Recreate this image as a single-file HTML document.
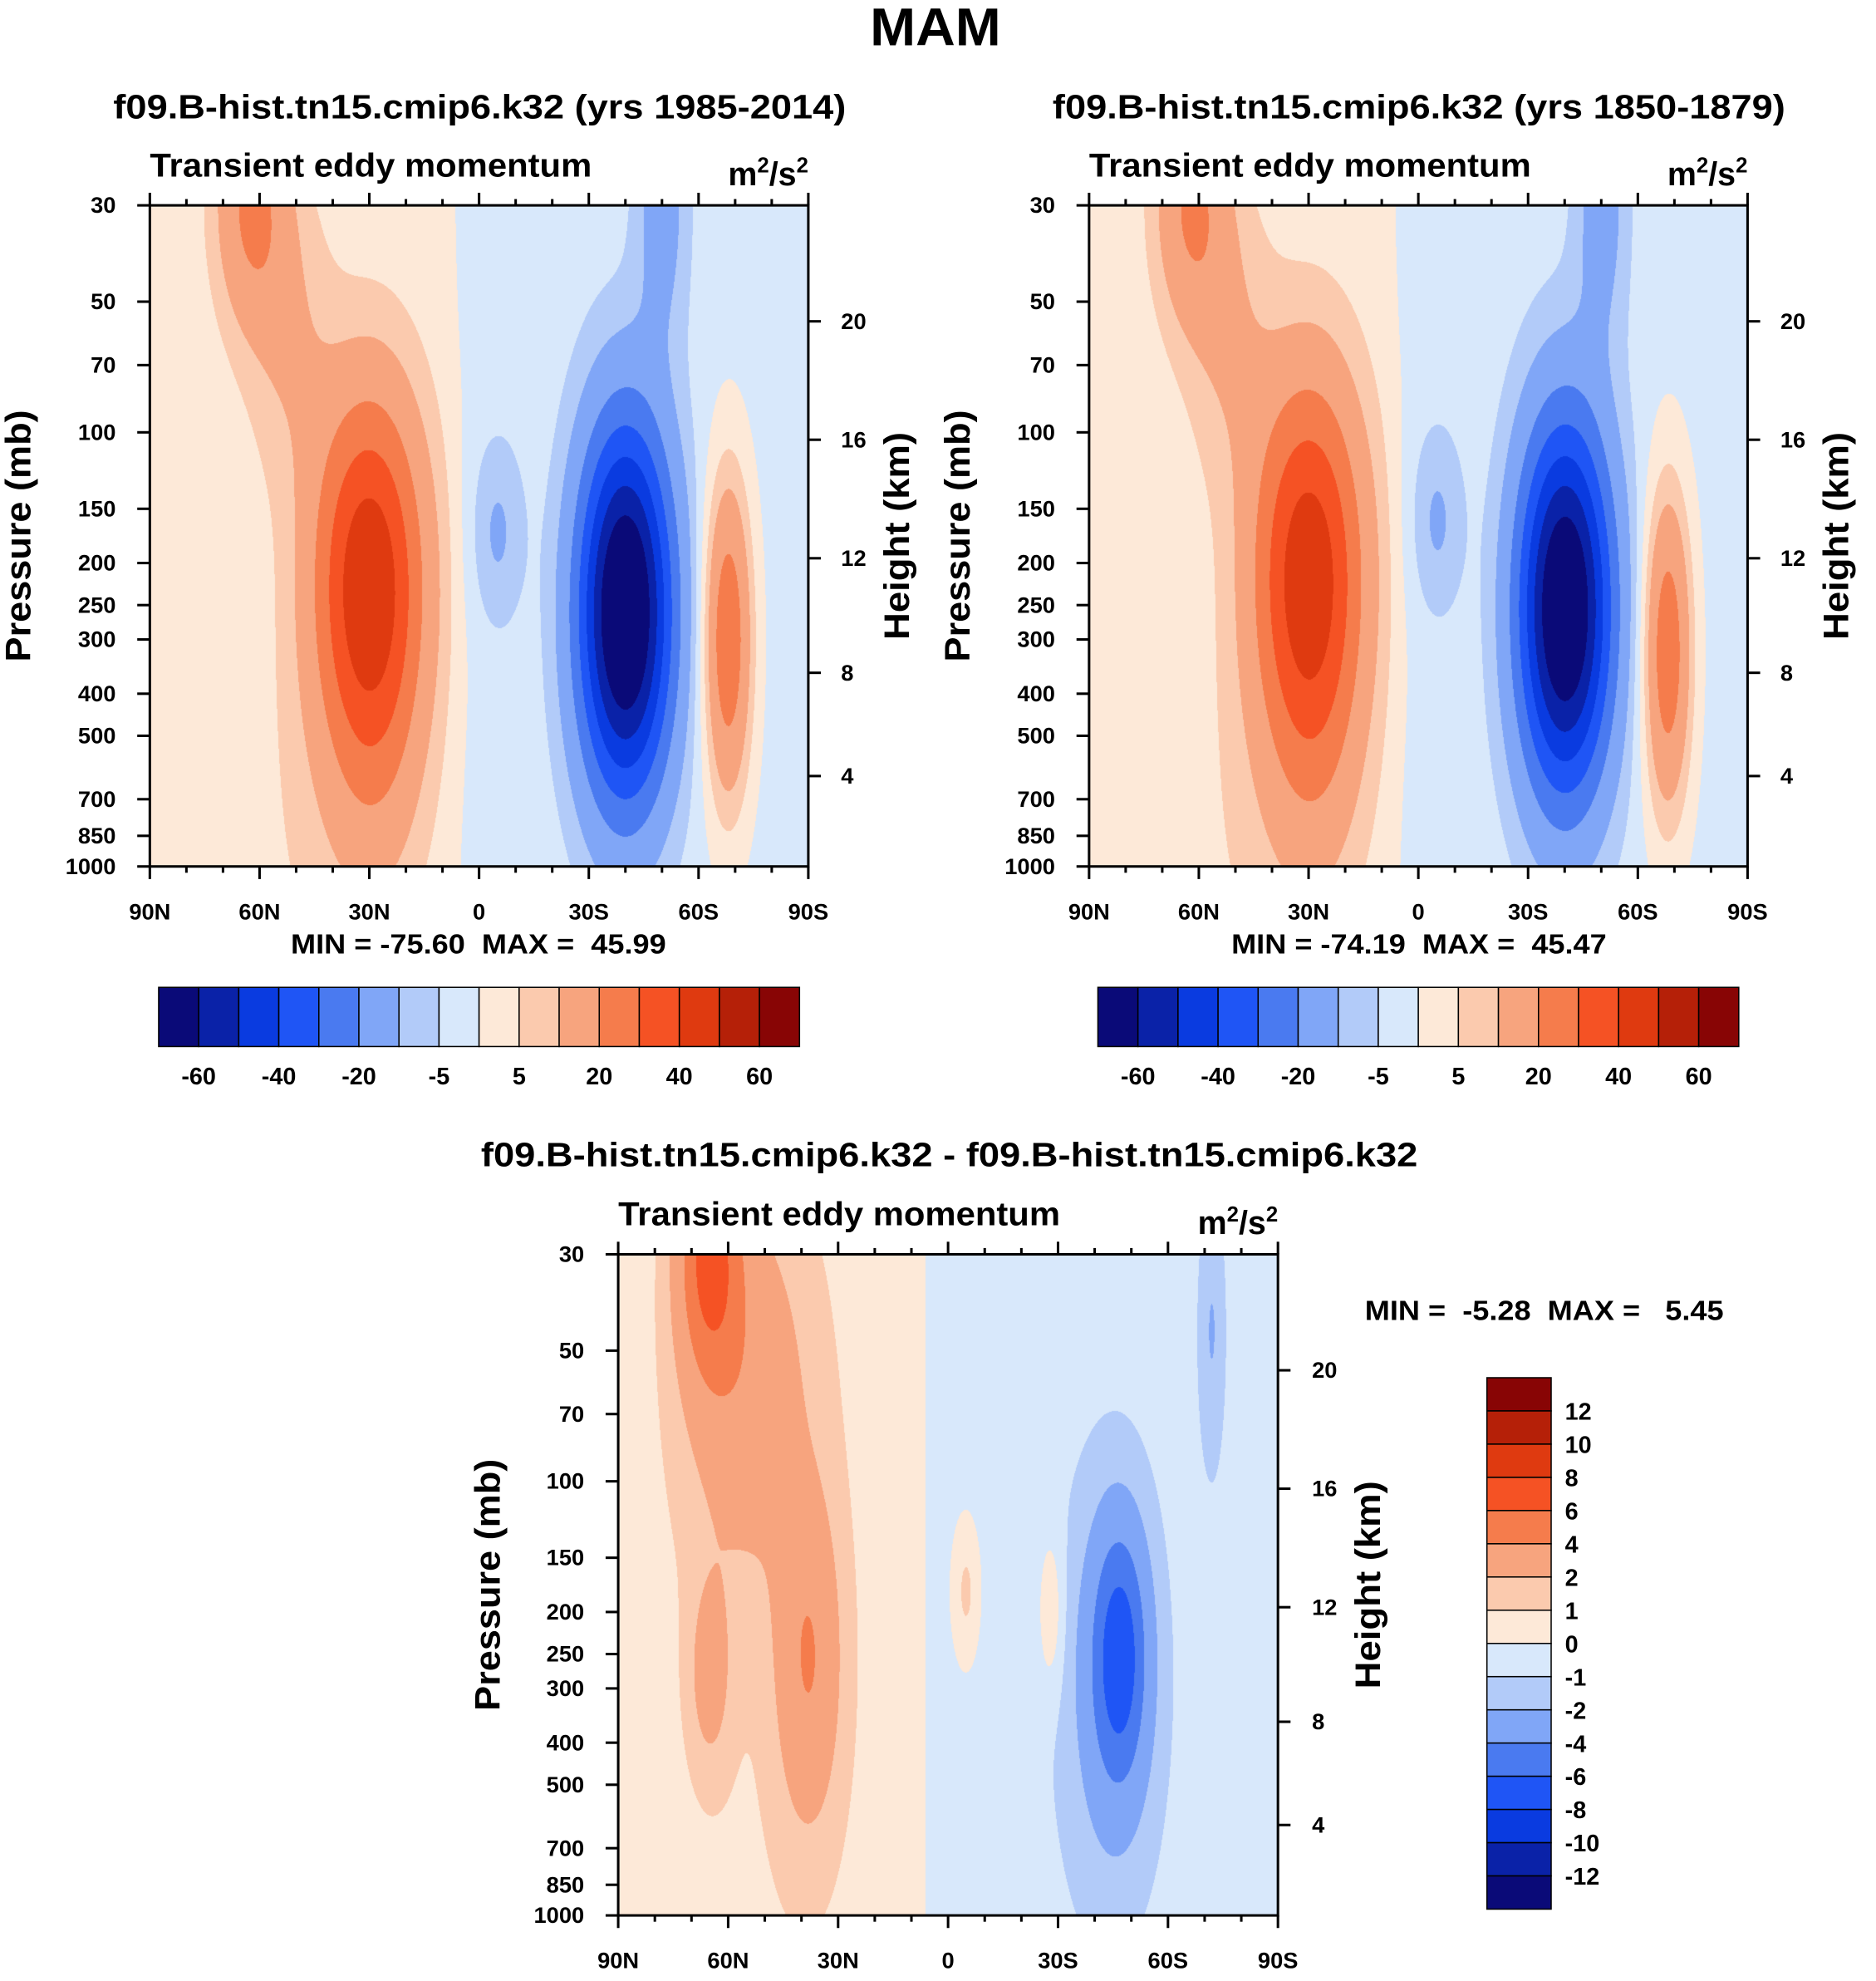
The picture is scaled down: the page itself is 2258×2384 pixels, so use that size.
<!DOCTYPE html>
<html><head><meta charset="utf-8">
<style>
html,body{margin:0;padding:0;background:#fff;}
#wrap{position:relative;width:2258px;height:2384px;overflow:hidden;background:#fff;}
canvas{position:absolute;}
svg{position:absolute;left:0;top:0;}
text{font-family:"Liberation Sans",sans-serif;font-weight:bold;fill:#000;white-space:pre;}
</style></head>
<body>
<div id="wrap">
<canvas id="c1"></canvas>
<canvas id="c2"></canvas>
<canvas id="c3"></canvas>
<svg id="svg" width="2258" height="2384" viewBox="0 0 1490 1573"></svg>
</div>
<script>
// ---- data ----
const palette = ["#0a0a78","#0a22a8","#0a3be0","#1f55f5","#4a7af0","#80a6f7","#b2cbf9","#d8e8fb","#fde9d8","#fbcaae","#f7a47e","#f57c4c","#f55224","#df3a10","#b52008","#880505"];
const levelsTop = [-60,-50,-40,-30,-20,-10,-5,0,5,10,20,30,40,50,60];
const levelsDiff = [-12,-10,-8,-6,-4,-2,-1,0,1,2,4,6,8,10,12];
const levelLabelsTop = ["-60","-40","-20","-5","5","20","40","60"];
const levelLabelsDiff = ["12","10","8","6","4","2","1","0","-1","-2","-4","-6","-8","-10","-12"];
const pressureTicks = [30,50,70,100,150,200,250,300,400,500,700,850,1000];
const heightTicks = [4,8,12,16,20];
const heightTickP = [619,358,195,104,55.5];
const latTicks = [90,60,30,0,-30,-60,-90];
const latTickLabels = ["90N","60N","30N","0","30S","60S","90S"];

// panel 1 blobs (lat, p[mb], amplitude, sigmaLat, sigmaLnP)
const p1Lat = [30, -40, -68, 62, -5, -50, 45, 52, 28];
const p1P   = [220, 260, 300, 30, 170, 30, 1000, 60, 600];
const p1Amp = [46, -76, 30, 20, -9, -12, 3, 8, 6];
const p1SL  = [10.5, 9, 4.5, 7, 5, 5, 18, 8, 9];
const p1SZ  = [0.7, 0.7, 0.6, 0.45, 0.35, 0.5, 1.0, 0.55, 0.6];
const p1Base = [1.5, -2];

// panel 2 blobs
const p2Lat = [30, -40, -68, 62, -5, -50, 45, 52, 28];
const p2P   = [210, 255, 320, 30, 160, 30, 1000, 60, 600];
const p2Amp = [45, -74, 29, 19, -9, -12, 3, 8, 6];
const p2SL  = [10.5, 9, 4.5, 7, 5, 5, 18, 8, 9];
const p2SZ  = [0.72, 0.7, 0.6, 0.45, 0.35, 0.5, 1.0, 0.55, 0.6];
const p2Base = [1.5, -2];

// difference blobs
const p3Lat = [65, 55, 38, 65, -47, -45, -5, -28, -72, 45, -30];
const p3P   = [30, 60, 260, 280, 250, 300, 180, 200, 45, 400, 400];
const p3Amp = [5.5, 2.5, 3.2, 2.0, -5.0, -2.2, 1.8, 1.6, -1.5, 0.4, -0.3];
const p3SL  = [6, 12, 6, 4, 5, 8, 3, 2.5, 2.5, 25, 30];
const p3SZ  = [0.45, 0.7, 0.6, 0.35, 0.45, 0.7, 0.3, 0.3, 0.5, 2, 2];
const p3Base = [0.5, -0.5];

// ---- layout (display units) ----
const S = 2258/1490;
const NS = "http://www.w3.org/2000/svg";
const svg = document.getElementById('svg');
function el(tag, attrs, parent){const e=document.createElementNS(NS,tag);for(const k in attrs)e.setAttribute(k,attrs[k]);(parent||svg).appendChild(e);return e;}
function txt(x,y,s,size,anchor,parent,rot,len){const t=el('text',{x:x,y:y,'font-size':size,'text-anchor':anchor||'middle'},parent);if(len){t.setAttribute('textLength',len);t.setAttribute('lengthAdjust','spacingAndGlyphs');}if(rot)t.setAttribute('transform','rotate(-90 '+x+' '+y+')');t.textContent=s;return t;}

function makeScales(x0,y0,w,h){
  const L=Math.log(1000/30);
  return {
    x: lat => x0 + (90-lat)/180*w,
    y: p => y0 + Math.log(p/30)/L*h,
    lat: px => 90 - (px-x0)/w*180,
    p: py => 30*Math.exp((py-y0)/h*L)
  };
}
function field(lat,p,B){
  const z=Math.log(p);
  const f=0.5+0.5*Math.tanh((lat-6)/4);
  const g=0.5+0.5*Math.tanh((84-lat)/3);
  let v = (B.base[0]*f + B.base[1]*(1-f))*(0.3+0.7*g) ;
  for(let i=0;i<B.lat.length;i++){
    const a=(lat-B.lat[i])/B.sl[i], b=(z-Math.log(B.p[i]))/B.sz[i];
    v += B.amp[i]*Math.exp(-0.5*(a*a+b*b));
  }
  return v;
}
function colorIdx(v,levels){let i=0;while(i<levels.length&&v>=levels[i])i++;return i;}
function hex2rgb(h){return [parseInt(h.substr(1,2),16),parseInt(h.substr(3,2),16),parseInt(h.substr(5,2),16)];}
const rgb = palette.map(hex2rgb);

function drawField(id,x0,y0,w,h,B,levels){
  const c=document.getElementById(id);
  const W=Math.round(w*S),H=Math.round(h*S);
  c.width=W;c.height=H;c.style.left=(x0*S)+'px';c.style.top=(y0*S)+'px';
  c.style.width=W+'px';c.style.height=H+'px';
  const ctx=c.getContext('2d');const img=ctx.createImageData(W,H);
  const sc=makeScales(0,0,W,H);
  for(let j=0;j<H;j++){const p=sc.p(j+0.5);
    for(let i=0;i<W;i++){const lat=sc.lat(i+0.5);
      const k=colorIdx(field(lat,p,B),levels);const c3=rgb[k];const o=(j*W+i)*4;
      img.data[o]=c3[0];img.data[o+1]=c3[1];img.data[o+2]=c3[2];img.data[o+3]=255;}}
  ctx.putImageData(img,0,0);
}

function drawAxes(name,x0,y0,w,h,pLabelX,pTitleX,hLabelX,hTitleX){
  const g=el('g',{});
  
  
  const sc=makeScales(x0,y0,w,h);
  el('rect',{x:x0,y:y0,width:w,height:h,fill:'none',stroke:'#000','stroke-width':2},g);
  pressureTicks.forEach(p=>{const y=sc.y(p);
    el('line',{x1:x0-10,x2:x0,y1:y,y2:y,stroke:'#000','stroke-width':2},g);
    const t=txt(pLabelX,y+6,String(p),18,'end',g);
    
    });
  const pt=txt(pTitleX,y0+h/2,'Pressure (mb)',28,'middle',g,true,200);
  
  
  heightTicks.forEach((hk,i)=>{const y=sc.y(heightTickP[i]);
    el('line',{x1:x0+w,x2:x0+w+10,y1:y,y2:y,stroke:'#000','stroke-width':2},g);
    const t=txt(hLabelX,y+6,String(hk),18,'start',g);
    
    });
  const ht=txt(hTitleX,y0+h/2,'Height (km)',28,'middle',g,true,165);
  
  
  for(let lat=90;lat>=-90;lat-=10){const x=sc.x(lat);const major=latTicks.indexOf(lat)>=0;const L=major?10:5;
    el('line',{x1:x,x2:x,y1:y0+h,y2:y0+h+L,stroke:'#000','stroke-width':2},g);
    el('line',{x1:x,x2:x,y1:y0,y2:y0-L,stroke:'#000','stroke-width':2},g);}
  latTicks.forEach((lat,i)=>{const t=txt(sc.x(lat),y0+h+42,latTickLabels[i],18,'middle',g);
    
    });
  const tr=txt(x0,y0-23,'Transient eddy momentum',26,'start',g,false,351);
  
  
  const u=el('text',{x:x0+w,y:y0-16,'font-size':26,'text-anchor':'end'},g);
  u.innerHTML='m<tspan dy="-10" font-size="17">2</tspan><tspan dy="10">/s</tspan><tspan dy="-10" font-size="17">2</tspan>';
  
  
}

function hColorbar(name,x0,y0,w,h){
  const g=el('g',{});
  
  
  const n=palette.length,bw=w/n;
  palette.forEach((c,i)=>{const r=el('rect',{x:x0+i*bw,y:y0,width:bw,height:h,fill:c,stroke:'#000','stroke-width':1},g);
    
    });
  levelLabelsTop.forEach((s,i)=>{const t=txt(x0+(2*i+1)*bw,y0+h+30,s,19,'middle',g);
    
    });
}
function vColorbar(name,x0,y0,w,h){
  const g=el('g',{});
  
  
  const n=palette.length,bh=h/n;
  for(let i=0;i<n;i++){const r=el('rect',{x:x0,y:y0+i*bh,width:w,height:bh,fill:palette[n-1-i],stroke:'#000','stroke-width':1},g);
    
    }
  levelLabelsDiff.forEach((s,i)=>{const t=txt(x0+w+11,y0+(i+1)*bh+7,s,19,'start',g);
    
    });
}

drawField('c1',119,163,523,525,{lat:p1Lat,p:p1P,amp:p1Amp,sl:p1SL,sz:p1SZ,base:p1Base},levelsTop);
drawField('c2',865,163,523,525,{lat:p2Lat,p:p2P,amp:p2Amp,sl:p2SL,sz:p2SZ,base:p2Base},levelsTop);
drawField('c3',491,996,524,525,{lat:p3Lat,p:p3P,amp:p3Amp,sl:p3SL,sz:p3SZ,base:p3Base},levelsDiff);

let t=txt(743,36,'MAM',42,'middle',null,false,104);


t=txt(381,94,'f09.B-hist.tn15.cmip6.k32 (yrs 1985-2014)',27,'middle',null,false,582);


t=txt(1127,94,'f09.B-hist.tn15.cmip6.k32 (yrs 1850-1879)',27,'middle',null,false,582);


t=txt(754,926,'f09.B-hist.tn15.cmip6.k32 - f09.B-hist.tn15.cmip6.k32',27,'middle',null,false,744);



drawAxes('left-panel',119,163,523,525,92,24,668,722);
drawAxes('right-panel',865,163,523,525,838,770,1414,1468);
drawAxes('diff-panel',491,996,524,525,464,397,1042,1096);

t=txt(380,757,'MIN = -75.60  MAX =  45.99',22,'middle',null,false,298);


t=txt(1127,757,'MIN = -74.19  MAX =  45.47',22,'middle',null,false,298);


t=txt(1084,1048,'MIN =  -5.28  MAX =   5.45',22,'start',null,false,285);



hColorbar('colorbar-left',126,784,509,47);
hColorbar('colorbar-right',872,784,509,47);
vColorbar('colorbar-difference',1181,1094,51,422);
</script>
</body></html>
